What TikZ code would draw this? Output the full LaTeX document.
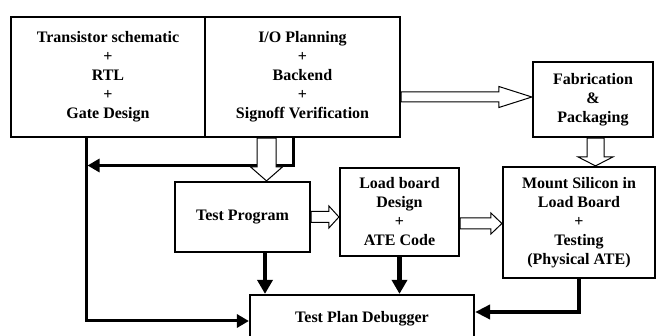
\documentclass[tikz,border=0pt]{standalone}
\usepackage{fontspec}
\setmainfont{Liberation Serif}
\usetikzlibrary{arrows.meta,calc}

\tikzset{
  blk/.style={draw, line width=2.2pt, inner sep=0pt, align=center,
    font=\fontsize{16}{19}\selectfont\bfseries},
  conn/.style={line width=3pt, -{Triangle[length=12pt,width=13pt]}},
  connheavy/.style={line width=4.5pt, -{Triangle[length=14pt,width=15pt]}},
  hollow/.style={draw, fill=white, line width=1pt, line join=miter},
}

% open block arrow pointing right: #1 start, #2 tip, #3 shaft half-height, #4 head half-height, #5 head length
\newcommand\hollowright[5]{%
  \draw[hollow] let \p1=(#1), \p2=(#2) in
    (\x1,\y2+#3) -- (\x2-#5,\y2+#3) -- (\x2-#5,\y2+#4) -- (\x2,\y2)
    -- (\x2-#5,\y2-#4) -- (\x2-#5,\y2-#3) -- (\x1,\y2-#3) -- cycle;}
% open block arrow pointing down: #1 start, #2 tip, #3 shaft half-width, #4 head half-width, #5 head length
\newcommand\hollowdown[5]{%
  \draw[hollow] let \p1=(#1), \p2=(#2) in
    (\x2-#3,\y1) -- (\x2-#3,\y2+#5) -- (\x2-#4,\y2+#5) -- (\x2,\y2)
    -- (\x2+#4,\y2+#5) -- (\x2+#3,\y2+#5) -- (\x2+#3,\y1) -- cycle;}

\begin{document}
\begin{tikzpicture}[x=1pt,y=1pt]
  \clip (0,0) rectangle (656,-336);

  % design stages
  \node[blk, minimum width=194pt, minimum height=120pt] (b1) at (108,-77)
    {Transistor schematic\\+\\RTL\\+\\Gate Design};
  \node[blk, minimum width=195pt, minimum height=120pt] (b2) at (302.5,-77)
    {I/O Planning\\+\\Backend\\+\\Signoff Verification};
  \node[blk, minimum width=120pt, minimum height=75pt] (fab) at (593,-99.5)
    {Fabrication\\\&\\Packaging};

  % test stages
  \node[blk, minimum width=135pt, minimum height=70pt] (tp) at (242.5,-217)
    {Test Program};
  \node[blk, minimum width=119pt, minimum height=88pt] (lb) at (399.5,-212)
    {Load board\\Design\\+\\ATE Code};
  \node[blk, minimum width=152pt, minimum height=111pt] (mount) at (579,-222.5)
    {Mount Silicon in\\Load Board\\+\\Testing\\(Physical ATE)};
  \node[blk, minimum width=224pt, minimum height=52pt, text depth=8pt] (dbg) at (362,-321)
    {Test Plan Debugger};

  % feedback paths into the debugger
  \coordinate (fb) at (87.5,-165.5);
  \draw[conn] ([xshift=-9.5pt]b2.south) |- (fb);
  \draw[conn] ([xshift=-22pt]b1.south) |- (dbg.west);
  \draw[connheavy] ([xshift=22.5pt]tp.south) -- ([xshift=22.5pt]tp.south |- dbg.north);
  \draw[connheavy] (lb.south) -- (lb.south |- dbg.north);
  \draw[conn, line width=4pt, -{Triangle[length=15pt,width=14pt]}]
    (mount.south) |- ([yshift=9pt]dbg.east);

  % main flow
  \hollowright{b2.east}{[yshift=2.5pt]fab.west}{5pt}{10.5pt}{33pt}
  \hollowright{tp.east}{lb.west |- tp.east}{5.5pt}{11pt}{10pt}
  \hollowright{lb.east}{[yshift=-1pt]mount.west}{5.5pt}{10.5pt}{11pt}
  \hollowdown{b2.south}{[xshift=24pt]tp.north}{9.5pt}{16pt}{14pt}
  \hollowdown{fab.south}{[xshift=16.5pt]mount.north}{8.5pt}{17.5pt}{9pt}
\end{tikzpicture}
\end{document}
